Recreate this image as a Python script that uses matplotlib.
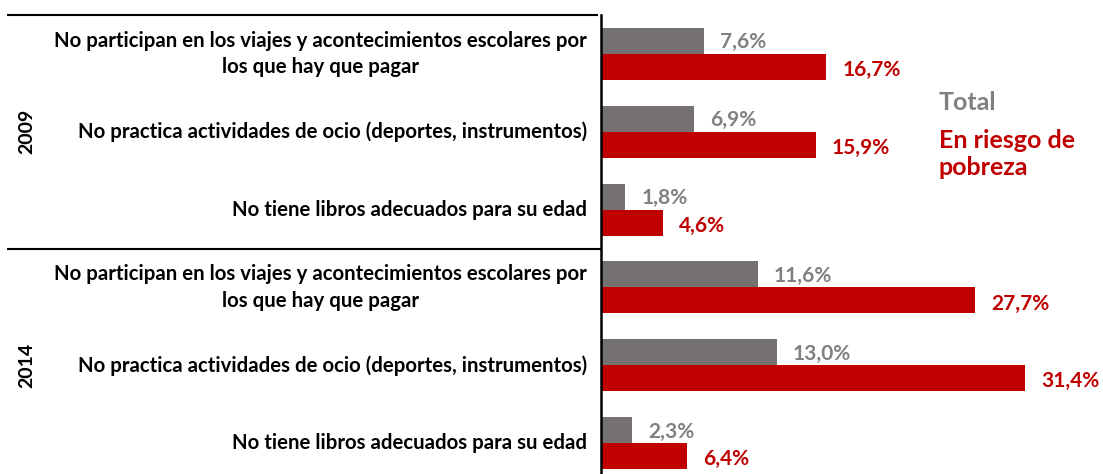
import matplotlib
matplotlib.use("Agg")
import matplotlib.pyplot as plt
import matplotlib.transforms as mtransforms
from matplotlib.lines import Line2D
import numpy as np

plt.rcParams["font.family"] = ["Lato", "DejaVu Sans"]

# Datos (%)
years = ["2009", "2014"]
items = [
    "No participan en los viajes y acontecimientos escolares por\nlos que hay que pagar",
    "No practica actividades de ocio (deportes, instrumentos)",
    "No tiene libros adecuados para su edad",
]
total = [7.6, 6.9, 1.8, 11.6, 13.0, 2.3]
pobreza = [16.7, 15.9, 4.6, 27.7, 31.4, 6.4]

GRAY = "#767171"
GRAY_TXT = "#808080"
RED = "#C00000"

W, H = 1103, 474
fig = plt.figure(figsize=(W / 100, H / 100), dpi=100)
# eje: desde x=601 px, arriba y=15 px, abajo ~482 px (sale del lienzo)
ax = fig.add_axes([601 / W, (H - 482) / H, (W - 601) / W, 467 / H])

n = len(total)
y = np.arange(n) + 0.5
bh = 0.335
ax.barh(y - bh / 2, total, height=bh, color=GRAY)
ax.barh(y + bh / 2, pobreza, height=bh, color=RED)

ax.set_ylim(n, 0)
ax.set_xlim(0, (W - 601) / 13.5)

for yi, v in zip(y, total):
    ax.text(v + 1.2, yi - bh / 2 + 0.02, f"{v:.1f}%".replace(".", ","),
            color=GRAY_TXT, fontsize=15, fontweight="bold", va="center", ha="left")
for yi, v in zip(y, pobreza):
    ax.text(v + 1.2, yi + bh / 2 + 0.04, f"{v:.1f}%".replace(".", ","),
            color=RED, fontsize=15, fontweight="bold", va="center", ha="left")

for s in ["top", "right", "bottom"]:
    ax.spines[s].set_visible(False)
ax.spines["left"].set_linewidth(1.8)
ax.set_xticks([])
ax.set_yticks([])

trans = mtransforms.blended_transform_factory(fig.transFigure, ax.transData)
labels = items * len(years)
for yi, lab in zip(y, labels):
    ax.text(587 / W, yi, lab, transform=trans, ha="right", va="center",
            multialignment="center", fontsize=14.7, fontweight="bold",
            linespacing=1.4, clip_on=False)

group = len(items)
for g, yr in enumerate(years):
    ax.text(27 / W, g * group + group / 2, yr, transform=trans, rotation=90,
            ha="center", va="center", fontsize=14, fontweight="bold", clip_on=False)
    line_end = 597 / W if g == 0 else 601 / W
    fig.add_artist(Line2D([8 / W, line_end], [g * group, g * group], transform=trans,
                          color="black", lw=1.5))

# leyenda como texto
fig.text(939 / W, 1 - 103 / H, "Total", color=GRAY_TXT, fontsize=18,
         fontweight="bold", va="center", ha="left")
fig.text(939 / W, 1 - 154 / H, "En riesgo de\npobreza", color=RED, fontsize=18,
         fontweight="bold", va="center", ha="left", linespacing=1.2)

fig.savefig("out.png", dpi=100)
